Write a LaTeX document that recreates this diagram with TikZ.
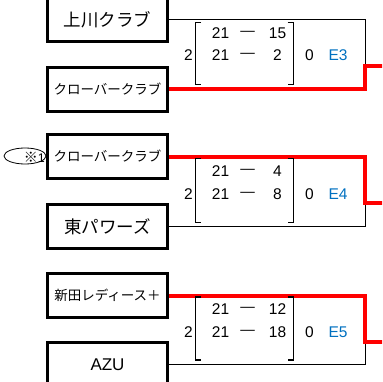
\documentclass[tikz,border=0pt]{standalone}
\usepackage{fontspec}
\usetikzlibrary{shapes.geometric}
\setmainfont{Noto Sans CJK JP}
\newfontfamily\latn{Liberation Sans}
\definecolor{eblue}{RGB}{0,112,192}
\begin{document}
\begin{tikzpicture}[x=1pt,y=-1pt,
  team/.style={draw, line width=3pt, minimum width=120pt, minimum height=44pt, inner sep=0pt},
  big/.style={font=\fontsize{17.5}{19}\selectfont},
  small/.style={font=\fontsize{13.5}{15}\selectfont},
  latbig/.style={font=\latn\fontsize{17}{19}\selectfont},
  num/.style={inner sep=0pt, font=\latn\fontsize{15.5}{17}\selectfont},
  dsh/.style={inner sep=0pt, font=\latn\fontsize{14.5}{17}\selectfont},
  code/.style={num, text=eblue},
  winline/.style={draw=red, line width=4pt},
  loseline/.style={draw=black, line width=0.9pt},
  brk/.style={draw=black, line width=1.2pt}]
\useasboundingbox (0,0) rectangle (382,382);
\clip (0,0) rectangle (382,382);

% ---------- block 1 ----------
\node[team, big]   (a1) at (107.5,19.5) {上川クラブ};
\node[team, small] (b1) at (107.5,89.5) {クローバークラブ};
\coordinate (j1) at (365,66);
\coordinate (o1) at (390,66);
\draw[loseline] (a1.east) -| (j1);
\draw[winline] (b1.east) -| (j1) -- (o1);
\draw[brk] (201,22.5) -- (195.5,22.5) -- (195.5,84.5) -- (201,84.5);
\draw[brk] (287.5,22.5) -- (293.5,22.5) -- (293.5,84.5) -- (287.5,84.5);
\node[num] (s1a) at (220.5,33) {21};
\node[dsh] (d1a) at (247.5,33) {—};
\node[num] (t1a) at (277.5,33) {15};
\node[num] (s1b) at (220.5,55) {21};
\node[dsh] (d1b) at (247.5,55) {—};
\node[num] (t1b) at (277.5,55) {2};
\node[num] (w1) at (188.5,55) {2};
\node[num] (l1) at (309.5,55) {0};
\node[code] (e1) at (338,55) {E3};

% ---------- block 2 ----------
\node[draw, ellipse, line width=0.8pt, minimum width=42pt, minimum height=16pt, inner sep=0pt] (m2) at (25,156) {};
\node[anchor=east, inner sep=0pt] (m2t) at (45,157) {\fontsize{14}{15}\selectfont ※\latn\fontsize{12.5}{14}\selectfont 1};
\node[team, small] (a2) at (107.5,156.5) {クローバークラブ};
\node[team, big]   (b2) at (107.5,226.5) {東パワーズ};
\coordinate (j2) at (365,203);
\coordinate (o2) at (390,203);
\draw[loseline] (b2.east) -| (j2);
\draw[winline] (a2.east) -| (j2) -- (o2);
\draw[brk] (201,158.5) -- (195.5,158.5) -- (195.5,222.5) -- (201,222.5);
\draw[brk] (287.5,158.5) -- (293.5,158.5) -- (293.5,222.5) -- (287.5,222.5);
\node[num] (s2a) at (220.5,171.5) {21};
\node[dsh] (d2a) at (247.5,171.5) {—};
\node[num] (t2a) at (277.5,171.5) {4};
\node[num] (s2b) at (220.5,194) {21};
\node[dsh] (d2b) at (247.5,194) {—};
\node[num] (t2b) at (277.5,194) {8};
\node[num] (w2) at (188.5,194) {2};
\node[num] (l2) at (309.5,194) {0};
\node[code] (e2) at (338,194) {E4};

% ---------- block 3 ----------
\node[team, small] (a3) at (107.5,295.5) {新田レディース＋};
\node[team, latbig] (b3) at (107.5,364.5) {AZU};
\coordinate (j3) at (365,342);
\coordinate (o3) at (390,342);
\draw[loseline] (b3.east) -| (j3);
\draw[winline] (a3.east) -| (j3) -- (o3);
\draw[brk] (201,297) -- (195.5,297) -- (195.5,360) -- (201,360);
\draw[brk] (287.5,297) -- (293.5,297) -- (293.5,360) -- (287.5,360);
\node[num] (s3a) at (220.5,309.5) {21};
\node[dsh] (d3a) at (247.5,309.5) {—};
\node[num] (t3a) at (277.5,309.5) {12};
\node[num] (s3b) at (220.5,332) {21};
\node[dsh] (d3b) at (247.5,332) {—};
\node[num] (t3b) at (277.5,332) {18};
\node[num] (w3) at (188.5,332) {2};
\node[num] (l3) at (309.5,332) {0};
\node[code] (e3) at (338,332) {E5};
\end{tikzpicture}
\end{document}
